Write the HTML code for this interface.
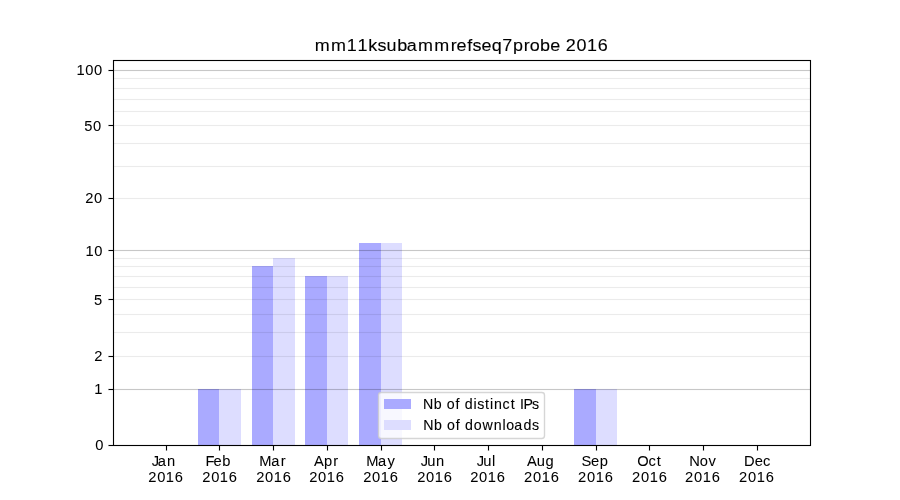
<!DOCTYPE html>
<html><head><meta charset="utf-8"><title>mm11ksubammrefseq7probe 2016</title>
<style>
html,body{margin:0;padding:0;background:#fff;width:900px;height:500px;overflow:hidden}
svg{display:block;will-change:transform}
text{font-family:"Liberation Sans",sans-serif;fill:#000}
</style></head><body>
<svg width="900" height="500" viewBox="0 0 900 500">
<rect x="0" y="0" width="900" height="500" fill="#fff"/>
<g shape-rendering="crispEdges">
<rect x="198" y="389" width="21" height="56" fill="#aaaaff"/>
<rect x="219" y="389" width="22" height="56" fill="#ddddff"/>
<rect x="252" y="266" width="21" height="179" fill="#aaaaff"/>
<rect x="273" y="258" width="22" height="187" fill="#ddddff"/>
<rect x="305" y="276" width="22" height="169" fill="#aaaaff"/>
<rect x="327" y="276" width="21" height="169" fill="#ddddff"/>
<rect x="359" y="243" width="22" height="202" fill="#aaaaff"/>
<rect x="381" y="243" width="21" height="202" fill="#ddddff"/>
<rect x="574" y="389" width="22" height="56" fill="#aaaaff"/>
<rect x="596" y="389" width="21" height="56" fill="#ddddff"/>
<rect x="113" y="389" width="697" height="1" fill="#000" fill-opacity="0.22"/>
<rect x="113" y="388" width="697" height="1" fill="#000" fill-opacity="0.0121"/>
<rect x="113" y="390" width="697" height="1" fill="#000" fill-opacity="0.0121"/>
<rect x="113" y="250" width="697" height="1" fill="#000" fill-opacity="0.22"/>
<rect x="113" y="249" width="697" height="1" fill="#000" fill-opacity="0.0121"/>
<rect x="113" y="251" width="697" height="1" fill="#000" fill-opacity="0.0121"/>
<rect x="113" y="70" width="697" height="1" fill="#000" fill-opacity="0.22"/>
<rect x="113" y="69" width="697" height="1" fill="#000" fill-opacity="0.0121"/>
<rect x="113" y="71" width="697" height="1" fill="#000" fill-opacity="0.0121"/>
<rect x="113" y="356" width="697" height="1" fill="#000" fill-opacity="0.078"/>
<rect x="113" y="355" width="697" height="1" fill="#000" fill-opacity="0.0043"/>
<rect x="113" y="357" width="697" height="1" fill="#000" fill-opacity="0.0043"/>
<rect x="113" y="332" width="697" height="1" fill="#000" fill-opacity="0.078"/>
<rect x="113" y="331" width="697" height="1" fill="#000" fill-opacity="0.0043"/>
<rect x="113" y="333" width="697" height="1" fill="#000" fill-opacity="0.0043"/>
<rect x="113" y="314" width="697" height="1" fill="#000" fill-opacity="0.078"/>
<rect x="113" y="313" width="697" height="1" fill="#000" fill-opacity="0.0043"/>
<rect x="113" y="315" width="697" height="1" fill="#000" fill-opacity="0.0043"/>
<rect x="113" y="299" width="697" height="1" fill="#000" fill-opacity="0.078"/>
<rect x="113" y="298" width="697" height="1" fill="#000" fill-opacity="0.0043"/>
<rect x="113" y="300" width="697" height="1" fill="#000" fill-opacity="0.0043"/>
<rect x="113" y="287" width="697" height="1" fill="#000" fill-opacity="0.078"/>
<rect x="113" y="286" width="697" height="1" fill="#000" fill-opacity="0.0043"/>
<rect x="113" y="288" width="697" height="1" fill="#000" fill-opacity="0.0043"/>
<rect x="113" y="276" width="697" height="1" fill="#000" fill-opacity="0.078"/>
<rect x="113" y="275" width="697" height="1" fill="#000" fill-opacity="0.0043"/>
<rect x="113" y="277" width="697" height="1" fill="#000" fill-opacity="0.0043"/>
<rect x="113" y="266" width="697" height="1" fill="#000" fill-opacity="0.078"/>
<rect x="113" y="265" width="697" height="1" fill="#000" fill-opacity="0.0043"/>
<rect x="113" y="267" width="697" height="1" fill="#000" fill-opacity="0.0043"/>
<rect x="113" y="258" width="697" height="1" fill="#000" fill-opacity="0.078"/>
<rect x="113" y="257" width="697" height="1" fill="#000" fill-opacity="0.0043"/>
<rect x="113" y="259" width="697" height="1" fill="#000" fill-opacity="0.0043"/>
<rect x="113" y="198" width="697" height="1" fill="#000" fill-opacity="0.078"/>
<rect x="113" y="197" width="697" height="1" fill="#000" fill-opacity="0.0043"/>
<rect x="113" y="199" width="697" height="1" fill="#000" fill-opacity="0.0043"/>
<rect x="113" y="166" width="697" height="1" fill="#000" fill-opacity="0.078"/>
<rect x="113" y="165" width="697" height="1" fill="#000" fill-opacity="0.0043"/>
<rect x="113" y="167" width="697" height="1" fill="#000" fill-opacity="0.0043"/>
<rect x="113" y="143" width="697" height="1" fill="#000" fill-opacity="0.078"/>
<rect x="113" y="142" width="697" height="1" fill="#000" fill-opacity="0.0043"/>
<rect x="113" y="144" width="697" height="1" fill="#000" fill-opacity="0.0043"/>
<rect x="113" y="125" width="697" height="1" fill="#000" fill-opacity="0.078"/>
<rect x="113" y="124" width="697" height="1" fill="#000" fill-opacity="0.0043"/>
<rect x="113" y="126" width="697" height="1" fill="#000" fill-opacity="0.0043"/>
<rect x="113" y="111" width="697" height="1" fill="#000" fill-opacity="0.078"/>
<rect x="113" y="110" width="697" height="1" fill="#000" fill-opacity="0.0043"/>
<rect x="113" y="112" width="697" height="1" fill="#000" fill-opacity="0.0043"/>
<rect x="113" y="99" width="697" height="1" fill="#000" fill-opacity="0.078"/>
<rect x="113" y="98" width="697" height="1" fill="#000" fill-opacity="0.0043"/>
<rect x="113" y="100" width="697" height="1" fill="#000" fill-opacity="0.0043"/>
<rect x="113" y="88" width="697" height="1" fill="#000" fill-opacity="0.078"/>
<rect x="113" y="87" width="697" height="1" fill="#000" fill-opacity="0.0043"/>
<rect x="113" y="89" width="697" height="1" fill="#000" fill-opacity="0.0043"/>
<rect x="113" y="78" width="697" height="1" fill="#000" fill-opacity="0.078"/>
<rect x="113" y="77" width="697" height="1" fill="#000" fill-opacity="0.0043"/>
<rect x="113" y="79" width="697" height="1" fill="#000" fill-opacity="0.0043"/>
<rect x="113" y="60" width="1" height="386" fill="#000"/>
<rect x="112" y="60" width="1" height="386" fill="#000" fill-opacity="0.055"/>
<rect x="114" y="60" width="1" height="386" fill="#000" fill-opacity="0.055"/>
<rect x="810" y="60" width="1" height="386" fill="#000"/>
<rect x="809" y="60" width="1" height="386" fill="#000" fill-opacity="0.055"/>
<rect x="811" y="60" width="1" height="386" fill="#000" fill-opacity="0.055"/>
<rect x="113" y="60" width="698" height="1" fill="#000"/>
<rect x="113" y="59" width="698" height="1" fill="#000" fill-opacity="0.055"/>
<rect x="113" y="61" width="698" height="1" fill="#000" fill-opacity="0.055"/>
<rect x="113" y="445" width="698" height="1" fill="#000"/>
<rect x="113" y="444" width="698" height="1" fill="#000" fill-opacity="0.055"/>
<rect x="113" y="446" width="698" height="1" fill="#000" fill-opacity="0.055"/>
<rect x="109" y="445" width="4" height="1" fill="#000"/>
<rect x="108" y="445" width="1" height="1" fill="#000" fill-opacity="0.5"/>
<rect x="108" y="444" width="5" height="1" fill="#000" fill-opacity="0.055"/>
<rect x="108" y="446" width="5" height="1" fill="#000" fill-opacity="0.055"/>
<rect x="109" y="389" width="4" height="1" fill="#000"/>
<rect x="108" y="389" width="1" height="1" fill="#000" fill-opacity="0.5"/>
<rect x="108" y="388" width="5" height="1" fill="#000" fill-opacity="0.055"/>
<rect x="108" y="390" width="5" height="1" fill="#000" fill-opacity="0.055"/>
<rect x="109" y="356" width="4" height="1" fill="#000"/>
<rect x="108" y="356" width="1" height="1" fill="#000" fill-opacity="0.5"/>
<rect x="108" y="355" width="5" height="1" fill="#000" fill-opacity="0.055"/>
<rect x="108" y="357" width="5" height="1" fill="#000" fill-opacity="0.055"/>
<rect x="109" y="299" width="4" height="1" fill="#000"/>
<rect x="108" y="299" width="1" height="1" fill="#000" fill-opacity="0.5"/>
<rect x="108" y="298" width="5" height="1" fill="#000" fill-opacity="0.055"/>
<rect x="108" y="300" width="5" height="1" fill="#000" fill-opacity="0.055"/>
<rect x="109" y="250" width="4" height="1" fill="#000"/>
<rect x="108" y="250" width="1" height="1" fill="#000" fill-opacity="0.5"/>
<rect x="108" y="249" width="5" height="1" fill="#000" fill-opacity="0.055"/>
<rect x="108" y="251" width="5" height="1" fill="#000" fill-opacity="0.055"/>
<rect x="109" y="198" width="4" height="1" fill="#000"/>
<rect x="108" y="198" width="1" height="1" fill="#000" fill-opacity="0.5"/>
<rect x="108" y="197" width="5" height="1" fill="#000" fill-opacity="0.055"/>
<rect x="108" y="199" width="5" height="1" fill="#000" fill-opacity="0.055"/>
<rect x="109" y="125" width="4" height="1" fill="#000"/>
<rect x="108" y="125" width="1" height="1" fill="#000" fill-opacity="0.5"/>
<rect x="108" y="124" width="5" height="1" fill="#000" fill-opacity="0.055"/>
<rect x="108" y="126" width="5" height="1" fill="#000" fill-opacity="0.055"/>
<rect x="109" y="70" width="4" height="1" fill="#000"/>
<rect x="108" y="70" width="1" height="1" fill="#000" fill-opacity="0.5"/>
<rect x="108" y="69" width="5" height="1" fill="#000" fill-opacity="0.055"/>
<rect x="108" y="71" width="5" height="1" fill="#000" fill-opacity="0.055"/>
<rect x="166" y="446" width="1" height="4" fill="#000"/>
<rect x="166" y="450" width="1" height="1" fill="#000" fill-opacity="0.5"/>
<rect x="165" y="446" width="1" height="5" fill="#000" fill-opacity="0.055"/>
<rect x="167" y="446" width="1" height="5" fill="#000" fill-opacity="0.055"/>
<rect x="219" y="446" width="1" height="4" fill="#000"/>
<rect x="219" y="450" width="1" height="1" fill="#000" fill-opacity="0.5"/>
<rect x="218" y="446" width="1" height="5" fill="#000" fill-opacity="0.055"/>
<rect x="220" y="446" width="1" height="5" fill="#000" fill-opacity="0.055"/>
<rect x="273" y="446" width="1" height="4" fill="#000"/>
<rect x="273" y="450" width="1" height="1" fill="#000" fill-opacity="0.5"/>
<rect x="272" y="446" width="1" height="5" fill="#000" fill-opacity="0.055"/>
<rect x="274" y="446" width="1" height="5" fill="#000" fill-opacity="0.055"/>
<rect x="327" y="446" width="1" height="4" fill="#000"/>
<rect x="327" y="450" width="1" height="1" fill="#000" fill-opacity="0.5"/>
<rect x="326" y="446" width="1" height="5" fill="#000" fill-opacity="0.055"/>
<rect x="328" y="446" width="1" height="5" fill="#000" fill-opacity="0.055"/>
<rect x="381" y="446" width="1" height="4" fill="#000"/>
<rect x="381" y="450" width="1" height="1" fill="#000" fill-opacity="0.5"/>
<rect x="380" y="446" width="1" height="5" fill="#000" fill-opacity="0.055"/>
<rect x="382" y="446" width="1" height="5" fill="#000" fill-opacity="0.055"/>
<rect x="434" y="446" width="1" height="4" fill="#000"/>
<rect x="434" y="450" width="1" height="1" fill="#000" fill-opacity="0.5"/>
<rect x="433" y="446" width="1" height="5" fill="#000" fill-opacity="0.055"/>
<rect x="435" y="446" width="1" height="5" fill="#000" fill-opacity="0.055"/>
<rect x="488" y="446" width="1" height="4" fill="#000"/>
<rect x="488" y="450" width="1" height="1" fill="#000" fill-opacity="0.5"/>
<rect x="487" y="446" width="1" height="5" fill="#000" fill-opacity="0.055"/>
<rect x="489" y="446" width="1" height="5" fill="#000" fill-opacity="0.055"/>
<rect x="542" y="446" width="1" height="4" fill="#000"/>
<rect x="542" y="450" width="1" height="1" fill="#000" fill-opacity="0.5"/>
<rect x="541" y="446" width="1" height="5" fill="#000" fill-opacity="0.055"/>
<rect x="543" y="446" width="1" height="5" fill="#000" fill-opacity="0.055"/>
<rect x="596" y="446" width="1" height="4" fill="#000"/>
<rect x="596" y="450" width="1" height="1" fill="#000" fill-opacity="0.5"/>
<rect x="595" y="446" width="1" height="5" fill="#000" fill-opacity="0.055"/>
<rect x="597" y="446" width="1" height="5" fill="#000" fill-opacity="0.055"/>
<rect x="649" y="446" width="1" height="4" fill="#000"/>
<rect x="649" y="450" width="1" height="1" fill="#000" fill-opacity="0.5"/>
<rect x="648" y="446" width="1" height="5" fill="#000" fill-opacity="0.055"/>
<rect x="650" y="446" width="1" height="5" fill="#000" fill-opacity="0.055"/>
<rect x="703" y="446" width="1" height="4" fill="#000"/>
<rect x="703" y="450" width="1" height="1" fill="#000" fill-opacity="0.5"/>
<rect x="702" y="446" width="1" height="5" fill="#000" fill-opacity="0.055"/>
<rect x="704" y="446" width="1" height="5" fill="#000" fill-opacity="0.055"/>
<rect x="757" y="446" width="1" height="4" fill="#000"/>
<rect x="757" y="450" width="1" height="1" fill="#000" fill-opacity="0.5"/>
<rect x="756" y="446" width="1" height="5" fill="#000" fill-opacity="0.055"/>
<rect x="758" y="446" width="1" height="5" fill="#000" fill-opacity="0.055"/>
</g>
<rect x="378.5" y="392.5" width="166" height="46" rx="2.8" ry="2.8" fill="#fff" fill-opacity="0.8" stroke="#ccc" stroke-opacity="0.8" stroke-width="1.39"/>
<g shape-rendering="crispEdges">
<rect x="384" y="399" width="27" height="10" fill="#aaaaff"/>
<rect x="384" y="420" width="27" height="10" fill="#ddddff"/>
</g>
<text x="302.63 318.25 333.42 343.64 354.09 363.01 371.69 381.92 391.13 402.02 417.65 433.34 439.03 449.36 454.35 462.95 472.84 483.00 493.22 503.66 509.29 519.30 529.18 538.88 544.00 554.43 564.43 574.74" y="51" font-size="17.3" stroke="#000" stroke-width="0.1" transform="scale(1.04,1)">mm11ksubammrefseq7probe 2016</text>
<text x="151.77 157.65 166.98" y="466" font-size="14.7" stroke="#000" stroke-width="0.05">Jan</text>
<text x="148.22 157.15 165.83 174.78" y="482" font-size="14.7" stroke="#000" stroke-width="0.05">2016</text>
<text x="205.60 213.59 222.28" y="466" font-size="14.7" stroke="#000" stroke-width="0.05">Feb</text>
<text x="202.20 211.14 219.81 228.76" y="482" font-size="14.7" stroke="#000" stroke-width="0.05">2016</text>
<text x="259.36 271.13 280.78" y="466" font-size="14.7" stroke="#000" stroke-width="0.05">Mar</text>
<text x="256.19 265.12 273.80 282.75" y="482" font-size="14.7" stroke="#000" stroke-width="0.05">2016</text>
<text x="313.94 324.00 333.14" y="466" font-size="14.7" stroke="#000" stroke-width="0.05">Apr</text>
<text x="309.18 318.11 326.79 335.74" y="482" font-size="14.7" stroke="#000" stroke-width="0.05">2016</text>
<text x="366.33 378.10 387.51" y="466" font-size="14.7" stroke="#000" stroke-width="0.05">May</text>
<text x="363.16 372.10 380.77 389.72" y="482" font-size="14.7" stroke="#000" stroke-width="0.05">2016</text>
<text x="420.64 427.17 435.98" y="466" font-size="14.7" stroke="#000" stroke-width="0.05">Jun</text>
<text x="417.15 426.08 434.76 443.71" y="482" font-size="14.7" stroke="#000" stroke-width="0.05">2016</text>
<text x="476.82 483.34 492.10" y="466" font-size="14.7" stroke="#000" stroke-width="0.05">Jul</text>
<text x="470.14 479.07 487.74 496.70" y="482" font-size="14.7" stroke="#000" stroke-width="0.05">2016</text>
<text x="526.89 536.83 545.53" y="466" font-size="14.7" stroke="#000" stroke-width="0.05">Aug</text>
<text x="524.12 533.06 541.73 550.68" y="482" font-size="14.7" stroke="#000" stroke-width="0.05">2016</text>
<text x="581.61 590.99 599.69" y="466" font-size="14.7" stroke="#000" stroke-width="0.05">Sep</text>
<text x="578.11 587.04 595.72 604.67" y="482" font-size="14.7" stroke="#000" stroke-width="0.05">2016</text>
<text x="637.33 648.43 656.72" y="466" font-size="14.7" stroke="#000" stroke-width="0.05">Oct</text>
<text x="632.10 641.03 649.70 658.66" y="482" font-size="14.7" stroke="#000" stroke-width="0.05">2016</text>
<text x="689.14 699.79 708.56" y="466" font-size="14.7" stroke="#000" stroke-width="0.05">Nov</text>
<text x="685.08 694.02 702.69 711.64" y="482" font-size="14.7" stroke="#000" stroke-width="0.05">2016</text>
<text x="743.92 754.83 763.09" y="466" font-size="14.7" stroke="#000" stroke-width="0.05">Dec</text>
<text x="739.07 748.00 756.68 765.63" y="482" font-size="14.7" stroke="#000" stroke-width="0.05">2016</text>
<text x="95.36" y="450" font-size="14.7" stroke="#000" stroke-width="0.05">0</text>
<text x="94.16" y="394" font-size="14.7" stroke="#000" stroke-width="0.05">1</text>
<text x="94.17" y="361" font-size="14.7" stroke="#000" stroke-width="0.05">2</text>
<text x="94.05" y="305" font-size="14.7" stroke="#000" stroke-width="0.05">5</text>
<text x="85.41 94.36" y="256" font-size="14.7" stroke="#000" stroke-width="0.05">10</text>
<text x="85.17 94.11" y="203" font-size="14.7" stroke="#000" stroke-width="0.05">20</text>
<text x="84.30 93.11" y="131" font-size="14.7" stroke="#000" stroke-width="0.05">50</text>
<text x="76.41 85.36 94.11" y="75" font-size="14.7" stroke="#000" stroke-width="0.05">100</text>
<text x="422.88 433.75 442.07 446.75 455.60 459.94 464.69 473.55 477.23 484.91 490.05 494.05 502.43 510.66 515.44 519.90 523.51 532.11" y="409" font-size="14.2" stroke="#000" stroke-width="0.1">Nb of distinct IPs</text>
<text x="423.13 434.00 442.32 447.00 455.85 460.19 464.94 473.75 482.49 493.80 502.42 506.25 514.24 523.44 532.11" y="430" font-size="14.2" stroke="#000" stroke-width="0.1">Nb of downloads</text>
</svg>
</body></html>
